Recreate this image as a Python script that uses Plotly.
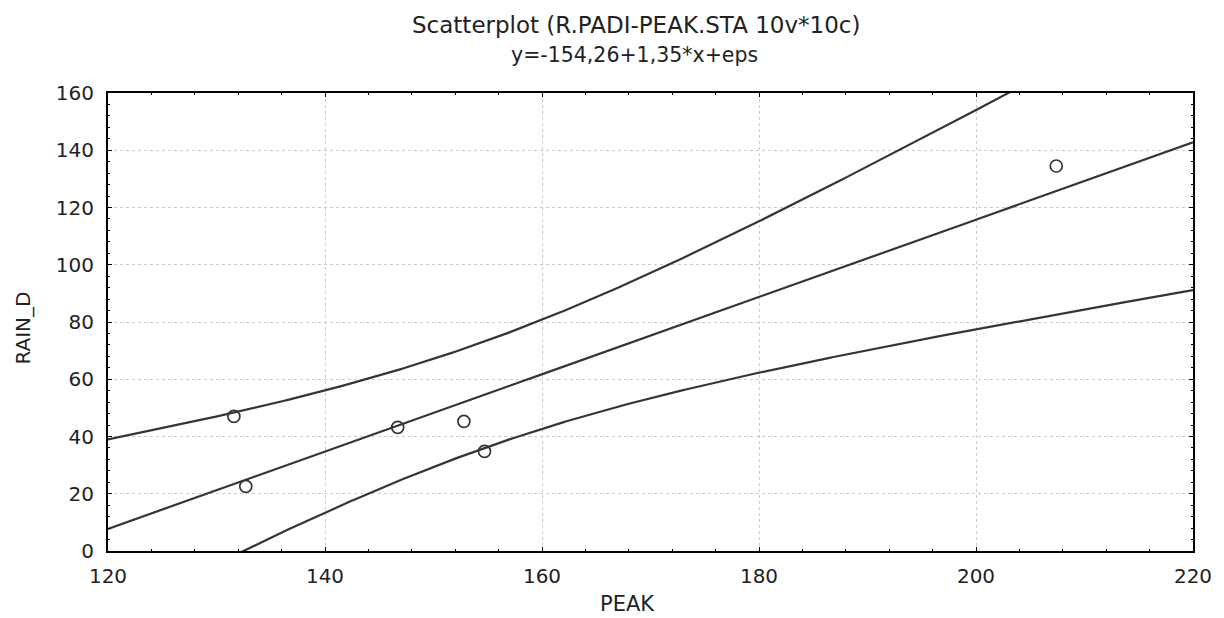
import numpy as np
import plotly.graph_objects as go

# Observed cases
peak = [131.6, 132.7, 146.7, 152.8, 154.7, 207.4]
rain_d = [47.0, 22.6, 43.2, 45.3, 34.8, 134.5]

# Fitted model from the header: y = -154.26 + 1.35*x
intercept = -154.26
slope = 1.35

# Axis ticks
x_ticks = [120, 140, 160, 180, 200, 220]
y_ticks = [0, 20, 40, 60, 80, 100, 120, 140, 160]

# 95% confidence band of the mean response (t for df = n - 2 = 4)
t_crit = 2.776
xs = np.array(peak)
ys = np.array(rain_d)
n = len(xs)
resid = ys - (intercept + slope * xs)
s = np.sqrt(np.sum(resid ** 2) / (n - 2))
sxx = np.sum((xs - xs.mean()) ** 2)

grid_x = np.linspace(x_ticks[0], x_ticks[-1], 401)
fit = intercept + slope * grid_x
half = t_crit * s * np.sqrt(1.0 / n + (grid_x - xs.mean()) ** 2 / sxx)

FONT = "DejaVu Sans"
INK = "#353535"
TEXT = "#222222"

fig = go.Figure()
for curve in (fit + half, fit, fit - half):
    fig.add_trace(go.Scatter(x=grid_x, y=curve, mode="lines",
                             line=dict(color=INK, width=2.2), hoverinfo="skip"))
fig.add_trace(go.Scatter(x=peak, y=rain_d, mode="markers",
                         marker=dict(symbol="circle-open", size=12,
                                     color=INK, line=dict(width=1.7))))

axis_common = dict(
    showline=True, linecolor="black", linewidth=2, mirror="ticks",
    ticks="inside", ticklen=4, tickcolor="black", tickwidth=1,
    showgrid=True, gridcolor="#cccccc", griddash="dot", gridwidth=1,
    zeroline=False,
    tickfont=dict(family=FONT, size=20, color=TEXT),
)

fig.update_xaxes(range=[120, 220], tickvals=x_ticks, ticklabelstandoff=6,
                 minor=dict(ticks="inside", ticklen=2, dtick=4, tickcolor="black",
                            showgrid=False),
                 **axis_common)
fig.update_yaxes(range=[0, 160], tickvals=y_ticks, ticklabelstandoff=8,
                 minor=dict(ticks="inside", ticklen=2, dtick=4, tickcolor="black",
                            showgrid=False),
                 **axis_common)

fig.update_layout(
    width=1224, height=618,
    margin=dict(l=108, r=23, t=93, b=67),
    paper_bgcolor="white", plot_bgcolor="white",
    showlegend=False,
    annotations=[
        dict(text="Scatterplot (R.PADI-PEAK.STA 10v*10c)", xref="paper", yref="paper",
             x=0.487, y=1.1485, xanchor="center", yanchor="middle",
             showarrow=False, font=dict(family=FONT, size=23, color=TEXT)),
        dict(text="y=-154,26+1,35*x+eps", xref="paper", yref="paper",
             x=0.485, y=1.083, xanchor="center", yanchor="middle",
             showarrow=False, font=dict(family=FONT, size=20.5, color=TEXT)),
        dict(text="PEAK", xref="paper", yref="paper",
             x=0.479, y=-0.1157, xanchor="center", yanchor="middle",
             showarrow=False, font=dict(family=FONT, size=21, color=TEXT)),
        dict(text="RAIN_D", xref="paper", yref="paper",
             x=-0.0787, y=0.487, xanchor="center", yanchor="middle",
             textangle=-90, showarrow=False,
             font=dict(family=FONT, size=20, color=TEXT)),
    ],
)

fig.write_html("out.html")
